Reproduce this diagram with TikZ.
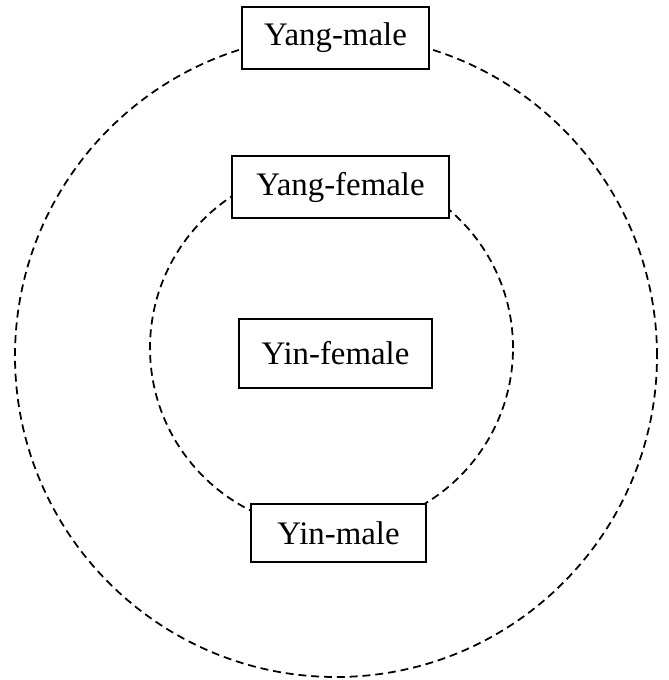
\documentclass[tikz,border=0pt]{standalone}
\usepackage{fontspec}
\setmainfont{Liberation Serif}
\usepackage{tikz}

\tikzset{
  ring/.style={line width=1pt,dash pattern=on 4.5pt off 2.8pt},
  box/.style={draw,line width=1.1pt,fill=white,inner sep=0pt,font=\fontsize{18.7}{21}\selectfont},
}

\begin{document}
\begin{tikzpicture}
\useasboundingbox (0,0) rectangle (13.36,13.6);
\draw[ring] (6.72,6.48) circle [radius=6.42];
\draw[ring] (6.63,6.64) circle [radius=3.63];
\node[box,minimum width=3.74cm,minimum height=1.24cm] (yangmale) at (6.71,12.84) {Yang-male};
\node[box,minimum width=4.34cm,minimum height=1.24cm] (yangfemale) at (6.81,9.86) {Yang-female};
\node[box,minimum width=3.86cm,minimum height=1.38cm] (yinfemale) at (6.71,6.53) {Yin-female};
\node[box,minimum width=3.5cm,minimum height=1.16cm] (yinmale) at (6.77,2.94) {Yin-male};
\end{tikzpicture}
\end{document}
